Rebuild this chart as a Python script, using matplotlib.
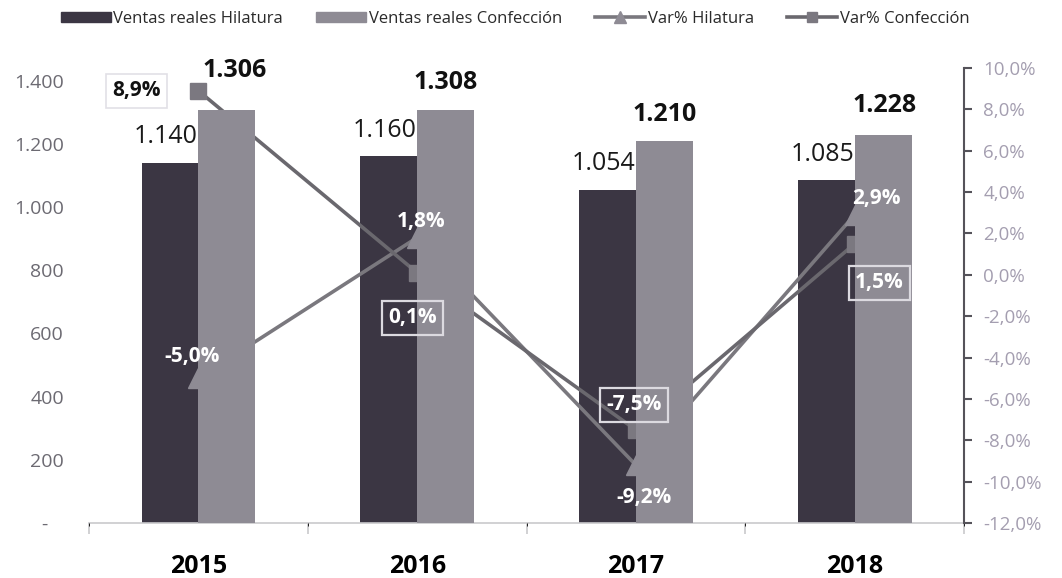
import matplotlib
matplotlib.use('Agg')
import matplotlib.pyplot as plt
from matplotlib.patches import Patch
from matplotlib.lines import Line2D

plt.rcParams['font.family'] = ['Open Sans', 'DejaVu Sans']

years = ['2015', '2016', '2017', '2018']
ventas_hilatura = [1140, 1160, 1054, 1085]
ventas_confeccion = [1306, 1308, 1210, 1228]
var_hilatura = [-5.0, 1.8, -9.2, 2.9]
var_confeccion = [8.9, 0.1, -7.5, 1.5]
left_ticks = [0, 200, 400, 600, 800, 1000, 1200, 1400]
left_tick_labels = ['-   ', '200', '400', '600', '800', '1.000', '1.200', '1.400']
right_ticks = [-12, -10, -8, -6, -4, -2, 0, 2, 4, 6, 8, 10]
series_names = ['Ventas reales Hilatura', 'Ventas reales Confección', 'Var% Hilatura', 'Var% Confección']

C_HIL = '#3b3643'
C_CONF = '#8e8b94'
C_LINE_H = '#7a787e'
C_LINE_C = '#6a686e'
C_MARK_H = '#8e8b94'
C_MARK_C = '#7b7880'


def fmt_val(v):
    return f"{v:,}".replace(',', '.')


def fmt_pct(v):
    return f"{v:.1f}%".replace('.', ',')


fig = plt.figure(figsize=(10.62, 5.78), dpi=100)
pos = [89 / 1062, 1 - 523 / 578, (964 - 89) / 1062, (523 - 68) / 578]
ax = fig.add_axes(pos)
ax2 = fig.add_axes(pos, sharex=ax)
ax3 = fig.add_axes(pos, sharex=ax, sharey=ax)
for a in (ax2, ax3):
    a.patch.set_visible(False)

x = list(range(len(years)))
w = 0.26
xh = [i - w / 2 for i in x]
xc = [i + w / 2 for i in x]

ax.bar(xh, ventas_hilatura, width=w, color=C_HIL, zorder=2)
ax3.bar(xc, ventas_confeccion, width=w, color=C_CONF, zorder=2)

ax2.plot(x, var_hilatura, color=C_LINE_H, lw=2.6, marker='^', ms=15,
         mfc=C_MARK_H, mec=C_MARK_H)
ax2.plot(x, var_confeccion, color=C_LINE_C, lw=2.6, marker='s', ms=12,
         mfc=C_MARK_C, mec=C_MARK_C)

ax.set_xlim(-0.5, len(years) - 0.5)
ax.set_ylim(0, 1440)
ax2.set_ylim(-12, 10)

# left axis
ax.set_yticks(left_ticks)
ax.set_yticklabels(left_tick_labels)
ax.tick_params(axis='y', length=0, pad=18, labelsize=14, labelcolor='#6c6a72')
for s in ('left', 'right', 'top'):
    ax.spines[s].set_visible(False)
ax.spines['bottom'].set_color('#c9c9cc')
ax.spines['bottom'].set_linewidth(1.2)
ax.set_xticks(x)
ax.set_xticklabels(years)
ax.set_xticks([i - 0.5 for i in range(len(years) + 1)], minor=True)
ax.tick_params(axis='x', which='major', length=0, pad=22, labelsize=18)
ax.tick_params(axis='x', which='minor', length=8, color='#c9c9cc', width=1.2)
for lab in ax.get_xticklabels():
    lab.set_fontweight('bold')

# right axis
ax2.yaxis.tick_right()
ax2.set_yticks(right_ticks)
ax2.set_yticklabels([fmt_pct(v) for v in right_ticks])
ax2.tick_params(axis='y', length=6, width=1.5, color='#55535a', pad=8,
                labelsize=13.5, labelcolor='#a49eb0')
ax2.tick_params(axis='x', bottom=False, labelbottom=False)
for s in ('left', 'top', 'bottom'):
    ax2.spines[s].set_visible(False)
ax2.spines['right'].set_color('#55535a')
ax2.spines['right'].set_linewidth(1.5)

ax3.set_axis_off()

# value labels
for xi, v in zip(xh, ventas_hilatura):
    ax3.annotate(fmt_val(v), (xi, v), xycoords=ax.transData, textcoords='offset pixels',
                 xytext=(-4, 26), ha='center', va='center', fontsize=18, color='#1a1a1a')
conf_offsets = [(8, 40), (0, 27), (0, 26), (2, 29)]
for xi, v, off in zip(xc, ventas_confeccion, conf_offsets):
    ax3.annotate(fmt_val(v), (xi, v), xycoords=ax.transData, textcoords='offset pixels',
                 xytext=off, ha='center', va='center', fontsize=18, fontweight='bold',
                 color='#111111')

# percentage labels
hil_offsets = [(-6, 22), (4, 16), (8, -32), (22, 16)]
for xi, v, off in zip(x, var_hilatura, hil_offsets):
    ax3.annotate(fmt_pct(v), (xi, v), xycoords=ax2.transData, textcoords='offset pixels',
                 xytext=off, ha='center', va='center', fontsize=15, fontweight='bold',
                 color='white')

conf_offsets_p = [(-62, 0), (-5, -45), (-2, 25), (25, -39)]
for i, (xi, v, off) in enumerate(zip(x, var_confeccion, conf_offsets_p)):
    if i == 0:
        box = dict(boxstyle='square,pad=0.3', fc='white', ec='#e2e0e6', lw=1.2)
        col = '#111111'
    else:
        box = dict(boxstyle='square,pad=0.3', fc='none', ec='#dcdae0', lw=1.6)
        col = 'white'
    ax3.annotate(fmt_pct(v), (xi, v), xycoords=ax2.transData, textcoords='offset pixels',
                 xytext=off, ha='center', va='center', fontsize=15, fontweight='bold',
                 color=col, bbox=box)

handles = [
    Patch(facecolor=C_HIL, edgecolor=C_HIL),
    Patch(facecolor=C_CONF, edgecolor=C_CONF),
    Line2D([], [], color=C_LINE_H, lw=2.6, marker='^', ms=8, mfc=C_MARK_H, mec=C_MARK_H),
    Line2D([], [], color=C_LINE_C, lw=2.6, marker='s', ms=7, mfc=C_MARK_C, mec=C_MARK_C),
]
fig.legend(handles, series_names, loc='center', bbox_to_anchor=(0.485, 0.967), ncol=4,
           frameon=False, fontsize=12, handlelength=3.0, handleheight=0.6,
           handletextpad=0.15, columnspacing=2.0, labelcolor='#2a2a2a')

fig.savefig('out.png', dpi=100, facecolor='white')
